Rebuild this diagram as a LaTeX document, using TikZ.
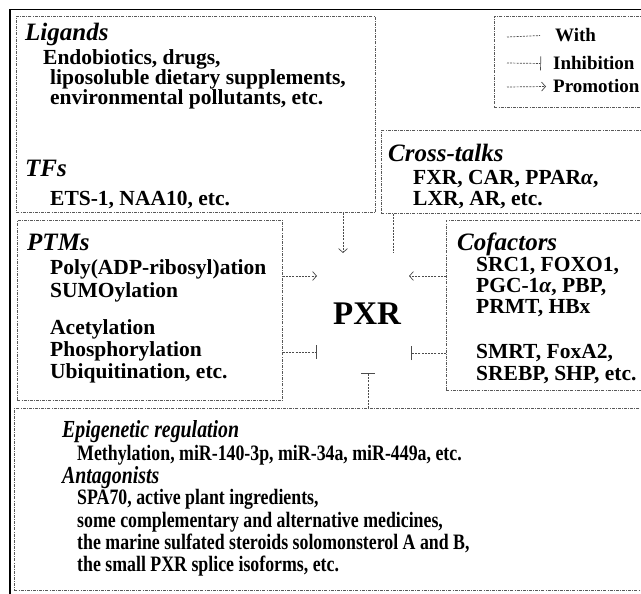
\documentclass[tikz,border=0pt]{standalone}
\usepackage{fontspec}
\setmainfont{Liberation Serif}
\newfontfamily\narrowfont[FakeStretch=0.81]{Liberation Serif}
\usetikzlibrary{arrows.meta}
\begin{document}
\begin{tikzpicture}[x=1pt,y=-1pt,
  box/.style={draw=black!65, line width=0.7pt, dash pattern=on 3pt off 1.2pt on 0.8pt off 1.2pt, inner sep=0pt, anchor=north west},
  conn/.style={draw=black!70, line width=0.7pt, dash pattern=on 2pt off 1.2pt},
  prom/.style={conn, -{Straight Barb[length=4pt,width=9pt]}},
  inhib/.style={conn, -{Bar[width=14pt]}},
  head/.style={font=\fontsize{25}{25}\selectfont\bfseries\itshape, anchor=base west, inner sep=0pt},
  body/.style={font=\fontsize{21.5}{21.5}\selectfont\bfseries, anchor=base west, inner sep=0pt},
  leg/.style={font=\fontsize{19}{19}\selectfont\bfseries, anchor=base west, inner sep=0pt},
  nhead/.style={font=\fontsize{24.5}{24.5}\selectfont\narrowfont\bfseries\itshape, anchor=base west, inner sep=0pt},
  nbody/.style={font=\fontsize{22}{22}\selectfont\narrowfont\bfseries, anchor=base west, inner sep=0pt}]
\clip (0,0) rectangle (641,594);
\fill[white] (0,0) rectangle (641,594);
\draw[line width=1.8pt] (10,600) -- (10,9.5) -- (650,9.5);

% boxes
\node[box, minimum width=359pt, minimum height=196pt] (lig) at (16,16) {};
\node[box, minimum width=160pt, minimum height=91pt] (legend) at (494,16) {};
\node[box, minimum width=270pt, minimum height=83pt] (cross) at (381,130) {};
\node[box, minimum width=265pt, minimum height=180pt] (ptm) at (17,220) {};
\node[box, minimum width=210pt, minimum height=170pt] (cof) at (446,220) {};
\node[box, minimum width=640pt, minimum height=182pt] (bot) at (14,408) {};

% center
\node[font=\fontsize{33}{33}\selectfont\bfseries, inner sep=0pt] (pxr) at (367,314) {PXR};

% Ligands / TFs
\node[head] (ligh) at (25,41) {Ligands};
\node[body] (lig1) at (43,65) {Endobiotics, drugs,};
\node[body] (lig2) at (50,85) {liposoluble dietary supplements,};
\node[body] (lig3) at (50,105) {environmental pollutants, etc.};
\node[head] (tfh) at (25,177) {TFs};
\node[body] (tf1) at (50,205) {ETS-1, NAA10, etc.};

% PTMs
\node[head] (ptmh) at (27,250) {PTMs};
\node[body] (ptm1) at (50,274) {Poly(ADP-ribosyl)ation};
\node[body] (ptm2) at (50,297) {SUMOylation};
\node[body] (ptm3) at (50,334) {Acetylation};
\node[body] (ptm4) at (50,356) {Phosphorylation};
\node[body] (ptm5) at (50,378) {Ubiquitination, etc.};

% Cross-talks
\node[head] (crh) at (388,161) {Cross-talks};
\node[body] (cr1) at (413,184) {FXR, CAR, PPAR{\itshape α},};
\node[body] (cr2) at (413,205) {LXR, AR, etc.};

% Cofactors
\node[head] (cofh) at (457,250) {Cofactors};
\node[body] (cof1) at (476,271) {SRC1, FOXO1,};
\node[body] (cof2) at (476,292) {PGC-1{\itshape α}, PBP,};
\node[body] (cof3) at (476,313) {PRMT, HBx};
\node[body] (cof4) at (476,358) {SMRT, FoxA2,};
\node[body] (cof5) at (476,380) {SREBP, SHP, etc.};

% Bottom
\node[nhead] (epih) at (62,437) {Epigenetic regulation};
\node[nbody] (epi1) at (77,460) {Methylation, miR-140-3p, miR-34a, miR-449a, etc.};
\node[nhead] (anth) at (62,483) {Antagonists};
\node[nbody] (ant1) at (77,504) {SPA70, active plant ingredients,};
\node[nbody] (ant2) at (77,527) {some complementary and alternative medicines,};
\node[nbody] (ant3) at (77,549) {the marine sulfated steroids solomonsterol A and B,};
\node[nbody] (ant4) at (77,571) {the small PXR splice isoforms, etc.};

% Legend
\node[leg] (lw) at (555,42) {With};
\node[leg] (li) at (553,70) {Inhibition};
\node[leg] (lp) at (553,93) {Promotion};
\coordinate (lw0) at (507,37);
\coordinate (li0) at (507,63);
\coordinate (lp0) at (507,87);
\draw[conn] (lw0) -- (lw.west -| 540,0);
\draw[inhib] (li0) -- (li.west -| 541,0);
\draw[prom] (lp0) -- (lp.west -| 546,0);

% connectors
\coordinate (ligend) at (343,253);
\draw[prom] (lig.south -| ligend) -- (ligend);
\coordinate (crend) at (393,253);
\draw[conn] (cross.south -| crend) -- (crend);
\coordinate (ptmA) at (317,276);
\draw[prom] (ptm.east |- ptmA) -- (ptmA);
\coordinate (ptmI) at (317,352);
\draw[inhib] (ptm.east |- ptmI) -- (ptmI);
\coordinate (cofA) at (409,276);
\draw[prom] (cof.west |- cofA) -- (cofA);
\coordinate (cofI) at (411,353);
\draw[inhib] (cof.west |- cofI) -- (cofI);
\coordinate (botI) at (368,373);
\draw[inhib] (bot.north -| botI) -- (botI);
\end{tikzpicture}
\end{document}
